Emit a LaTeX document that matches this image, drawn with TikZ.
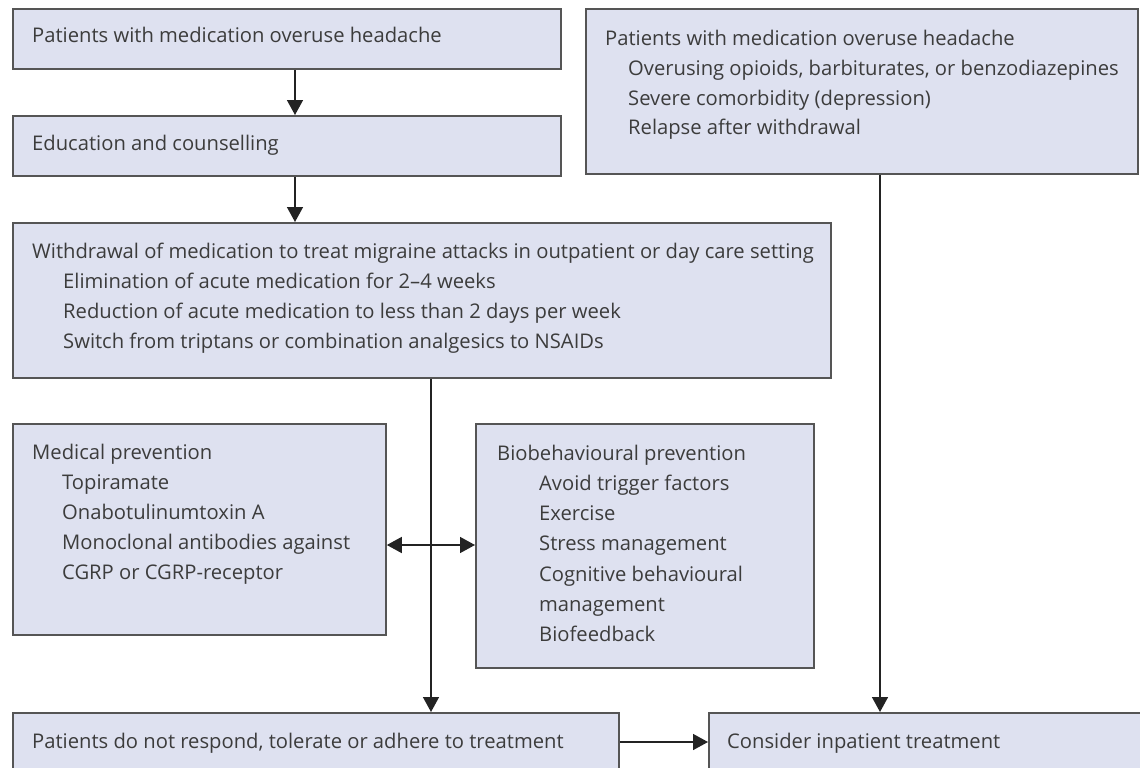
\documentclass[tikz,border=0pt]{standalone}
\usepackage{fontspec}
\setmainfont{Open Sans}
\usetikzlibrary{arrows.meta}
\definecolor{boxfill}{RGB}{222,225,240}
\definecolor{boxline}{RGB}{85,85,85}
\definecolor{conncol}{RGB}{35,35,35}
\definecolor{textcol}{RGB}{60,60,60}
\begin{document}
\begin{tikzpicture}[x=1pt,y=-1pt,
  box/.style={draw=boxline, line width=1.8pt, fill=boxfill, rectangle, inner sep=0pt, anchor=north west},
  txt/.style={anchor=base west, inner sep=0pt, text=textcol, font=\fontsize{20.2}{24}\selectfont},
  conn/.style={draw=conncol, line width=1.5pt},
  arr/.style={conn, -{Triangle[width=16pt,length=15pt]}}]
\useasboundingbox (0,0) rectangle (1140,768);
\clip (0,0) rectangle (1140,768);
% boxes
\node[box, minimum width=548pt, minimum height=60pt] (b1) at (12,8) {};
\node[box, minimum width=548pt, minimum height=60pt] (b2) at (12,115) {};
\node[box, minimum width=818pt, minimum height=155pt] (b3) at (12,222) {};
\node[box, minimum width=552pt, minimum height=165pt] (r1) at (585,8) {};
\node[box, minimum width=373pt, minimum height=211pt] (m) at (12,423) {};
\node[box, minimum width=338pt, minimum height=244pt] (bb) at (475,423) {};
\node[box, minimum width=606pt, minimum height=90pt] (bl) at (12,712) {};
\node[box, minimum width=450pt, minimum height=90pt] (br) at (708,712) {};
% texts
\node[txt] (t1) at (32,43) {Patients with medication overuse headache};
\node[txt] (t2) at (32,150) {Education and counselling};
\node[txt] (t3a) at (32,258) {Withdrawal of medication to treat migraine attacks in outpatient or day care setting};
\node[txt] (t3b) at (63,288) {Elimination of acute medication for 2–4 weeks};
\node[txt] (t3c) at (63,318) {Reduction of acute medication to less than 2 days per week};
\node[txt] (t3d) at (63,348) {Switch from triptans or combination analgesics to NSAIDs};
\node[txt] (r1a) at (605,46) {Patients with medication overuse headache};
\node[txt] (r1b) at (628,75.5) {Overusing opioids, barbiturates, or benzodiazepines};
\node[txt] (r1c) at (628,105) {Severe comorbidity (depression)};
\node[txt] (r1d) at (628,134.5) {Relapse after withdrawal};
\node[txt] (ma) at (32,459) {Medical prevention};
\node[txt] (mb) at (62,489) {Topiramate};
\node[txt] (mc) at (62,519) {Onabotulinumtoxin A};
\node[txt] (md) at (62,549) {Monoclonal antibodies against};
\node[txt] (me) at (62,579) {CGRP or CGRP-receptor};
\node[txt] (ba) at (497,460) {Biobehavioural prevention};
\node[txt] (bb1) at (539,490.3) {Avoid trigger factors};
\node[txt] (bb2) at (539,520.6) {Exercise};
\node[txt] (bb3) at (539,550.9) {Stress management};
\node[txt] (bb4) at (539,581.2) {Cognitive behavioural};
\node[txt] (bb5) at (539,611.5) {management};
\node[txt] (bb6) at (539,641.8) {Biofeedback};
\node[txt] (bla) at (32,748) {Patients do not respond, tolerate or adhere to treatment};
\node[txt] (bra) at (727,748) {Consider inpatient treatment};
% connectors
\coordinate (xa) at (295,0);
\coordinate (xb) at (431,0);
\coordinate (xc) at (880,0);
\coordinate (ya) at (0,545);
\coordinate (yb) at (0,742);
\draw[arr] (b1.south -| xa) -- (b2.north -| xa);
\draw[arr] (b2.south -| xa) -- (b3.north -| xa);
\draw[arr] (b3.south -| xb) -- (bl.north -| xb);
\draw[arr] (r1.south -| xc) -- (br.north -| xc);
\draw[conn, {Triangle[width=16pt,length=15pt]}-{Triangle[width=16pt,length=15pt]}] (m.east |- ya) -- (bb.west |- ya);
\draw[arr] (bl.east |- yb) -- (br.west |- yb);
\end{tikzpicture}
\end{document}
